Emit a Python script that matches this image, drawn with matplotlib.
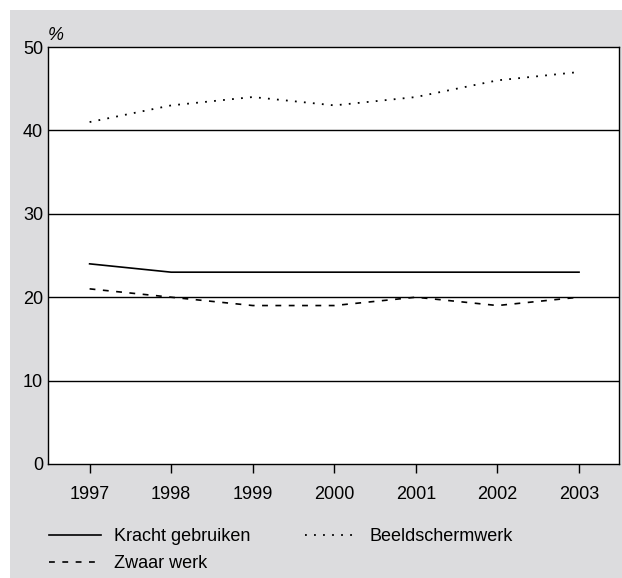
import matplotlib
matplotlib.use("Agg")
import matplotlib.pyplot as plt
from matplotlib.lines import Line2D
from matplotlib.patches import Rectangle

years = [1997, 1998, 1999, 2000, 2001, 2002, 2003]
kracht = [24, 23, 23, 23, 23, 23, 23]
beeldscherm = [41, 43, 44, 43, 44, 46, 47]
zwaar = [21, 20, 19, 19, 20, 19, 20]
yticks = [0, 10, 20, 30, 40, 50]

plt.rcParams["font.family"] = ["Liberation Sans", "DejaVu Sans"]

fig = plt.figure(figsize=(6.22, 5.78), dpi=100)
fig.patch.set_facecolor("white")
# grey panel behind the chart
fig.patches.append(Rectangle((10 / 622, 0), 1 - 10 / 622, 568 / 578,
                             transform=fig.transFigure, facecolor="#dcdcde",
                             edgecolor="none", zorder=-10))

ax = fig.add_axes([48 / 622, 114 / 578, 571 / 622, 417 / 578])
ax.set_facecolor("white")

for y in yticks[1:-1]:
    ax.axhline(y, color="black", lw=1.0, zorder=1)

dash = (0, (3.5, 4.5))
dots = (0, (1, 4))
ax.plot(years, kracht, color="black", lw=1.2, ls="-", zorder=3)
ax.plot(years, zwaar, color="black", lw=1.2, ls=dash, zorder=3)
ax.plot(years, beeldscherm, color="black", lw=1.3, ls=dots, zorder=3)

ax.set_xlim(1996.49, 2003.49)
ax.set_ylim(0, 50)
ax.set_xticks(years)
ax.set_yticks(yticks)
ax.tick_params(axis="x", direction="out", length=6.5, width=1, pad=9,
               labelsize=13, colors="black")
ax.tick_params(axis="y", length=0, pad=3.5, labelsize=13)
for s in ax.spines.values():
    s.set_linewidth(1.0)
    s.set_color("black")

ax.text(0.0, 1.008, "%", transform=ax.transAxes, fontsize=13,
        style="italic", ha="left", va="bottom")

handles = [
    Line2D([], [], color="black", lw=1.2, ls="-"),
    Line2D([], [], color="black", lw=1.2, ls=dash),
    Line2D([], [], color="black", lw=1.3, ls=dots),
]
labels = ["Kracht gebruiken", "Zwaar werk", "Beeldschermwerk"]
fig.legend(handles, labels, loc="upper left",
           bbox_to_anchor=(49 / 622, 1 - 528 / 578), ncol=2, frameon=False,
           fontsize=13, handlelength=2.9, handletextpad=0.7,
           columnspacing=3.0, labelspacing=0.58, borderaxespad=0,
           borderpad=0)

fig.savefig("out.png", dpi=100, facecolor="white")
